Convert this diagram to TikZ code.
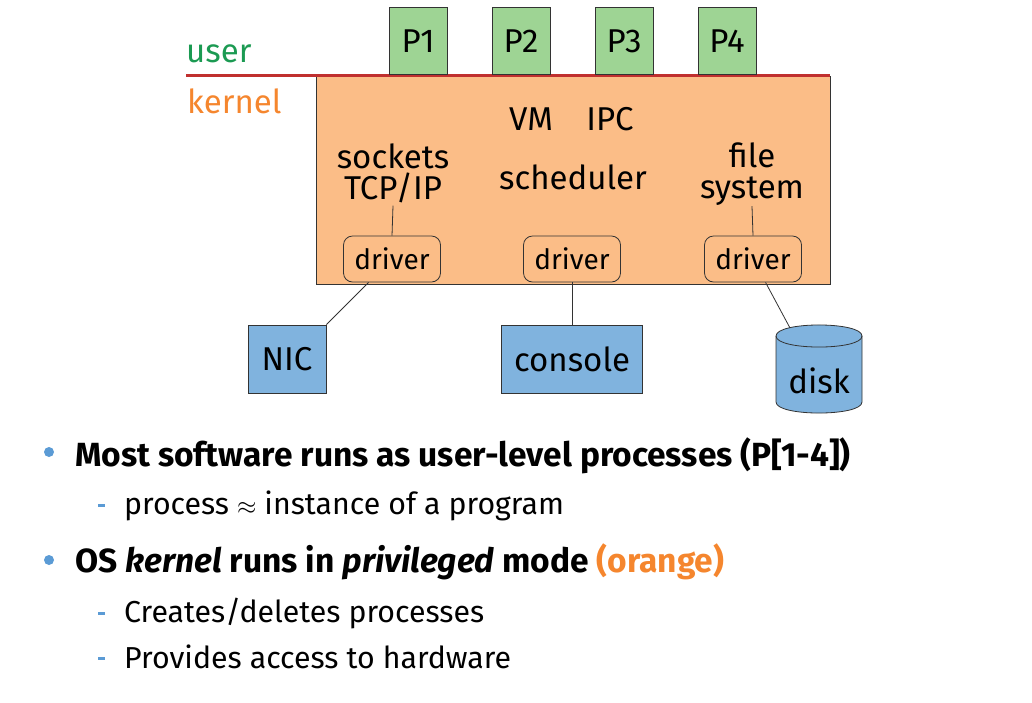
\documentclass[tikz,border=0pt]{standalone}
\usepackage{fontspec}
\setmainfont{Fira Sans}
\usetikzlibrary{calc}
\definecolor{pgreen}{HTML}{9ED494}
\definecolor{korange}{HTML}{FBBD87}
\definecolor{hwblue}{HTML}{80B3DE}
\definecolor{redline}{HTML}{C0302F}
\definecolor{usergreen}{HTML}{1B9A52}
\definecolor{kerntext}{HTML}{F5862E}
\definecolor{bulblue}{HTML}{5B9BD5}
\definecolor{edge}{HTML}{333333}
\begin{document}
\begin{tikzpicture}[x=1pt,y=-1pt,
  bigfont/.style={font=\fontsize{33}{31}\selectfont},
  proc/.style={draw=edge, line width=0.8pt, fill=pgreen, minimum width=58pt, minimum height=67pt, inner sep=0pt, bigfont},
  kbox/.style={draw=edge, line width=0.8pt, fill=korange, minimum width=514pt, minimum height=208pt, inner sep=0pt},
  drv/.style={draw=edge, line width=0.8pt, rounded corners=9pt, minimum width=97pt, minimum height=46pt, inner sep=0pt, font=\fontsize{28}{30}\selectfont},
  hw/.style={draw=edge, line width=0.8pt, fill=hwblue, minimum height=68pt, inner sep=0pt, bigfont},
  lbl/.style={anchor=base, inner sep=0pt, bigfont},
  conn/.style={draw=edge, line width=0.8pt},
  bodyb/.style={anchor=base west, inner sep=0pt, font=\bfseries\fontsize{33.5}{36}\selectfont},
  bodyr/.style={anchor=base west, inner sep=0pt, font=\fontsize{30.3}{34}\selectfont}
]
\useasboundingbox (0,0) rectangle (1032,702);

% kernel box
\node[kbox, anchor=north west] (kernel) at (316,76) {};
% user/kernel boundary
\coordinate (ul) at (186,75);
\coordinate (ur) at (830,75);
\draw[redline, line width=3pt] (ul) -- (ur);
\node[anchor=base west, inner sep=0pt, bigfont, text=usergreen] (user) at (186,62) {user};
\node[anchor=base west, inner sep=0pt, bigfont, text=kerntext] (kern) at (187,113) {kernel};

% processes
\node[proc, anchor=south] (p1) at (418,75) {P1};
\node[proc, anchor=south] (p2) at (521,75) {P2};
\node[proc, anchor=south] (p3) at (624,75) {P3};
\node[proc, anchor=south] (p4) at (727,75) {P4};

% kernel contents
\node[lbl] (vm) at (531,130) {VM};
\node[lbl] (ipc) at (610,130) {IPC};
\node[lbl] (sock) at (393,168) {sockets};
\node[lbl] (tcp) at (393,199) {TCP/IP};
\node[lbl] (sched) at (573,189) {scheduler};
\node[lbl] (file) at (752,167) {file};
\node[lbl] (fs) at (752,198) {system};

\node[drv] (d1) at (392,259) {driver};
\node[drv] (d2) at (572,259) {driver};
\node[drv] (d3) at (753,259) {driver};

\draw[conn] ($(tcp.south)+(0,3)$) -- (d1.north);
\draw[conn] ($(fs.south)+(0,1)$) -- (d3.north);

% hardware
\node[hw, minimum width=78pt] (nic) at (287,359) {NIC};
\node[hw, minimum width=141pt] (console) at (572,359) {console};
\filldraw[fill=hwblue, draw=edge, line width=0.8pt]
  (776,336) -- (776,402) .. controls (776,416.7) and (862,416.7) .. (862,402)
  -- (862,336) .. controls (862,321.3) and (776,321.3) .. (776,336) -- cycle;
\draw[edge, line width=0.8pt] (776,336) .. controls (776,350.7) and (862,350.7) .. (862,336);
\node[lbl] (disk) at (819,393) {disk};
\coordinate (dtop) at (790,328);

\draw[conn] (nic.north east) -- (d1);
\draw[conn] (d2.south) -- (console.north);
\draw[conn] (d3) -- (dtop);

% bullets
\fill[bulblue] (49,452) circle (5pt);
\fill[bulblue] (49,560) circle (5pt);
\fill[bulblue] (98,504) rectangle (105,507);
\fill[bulblue] (98,612) rectangle (105,615);
\fill[bulblue] (98,657) rectangle (105,660);

\node[bodyb] (b1) at (75,466) {Most software runs as user-level processes (P[1-4])};
\node[bodyr] (s1) at (124,514) {process \(\approx\) instance of a program};
\node[bodyb] (b2) at (75,572) {OS \textit{kernel} runs in \textit{privileged} mode \textcolor{kerntext}{(orange)}};
\node[bodyr] (s2) at (124,622) {Creates/deletes processes};
\node[bodyr] (s3) at (124,668) {Provides access to hardware};
\end{tikzpicture}
\end{document}
